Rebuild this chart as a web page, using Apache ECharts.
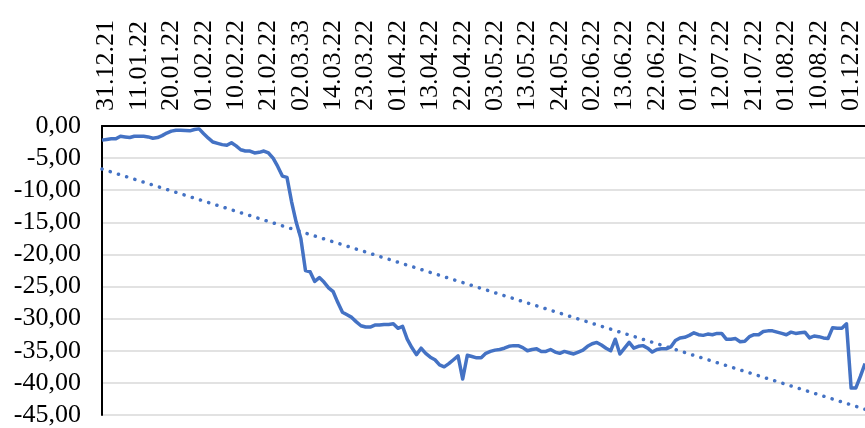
<!DOCTYPE html>
<html>
<head>
<meta charset="utf-8">
<script src="https://cdn.jsdelivr.net/npm/echarts@6/dist/echarts.min.js"></script>
<style>
  html, body { margin: 0; padding: 0; background: #fff; }
  #chart { width: 865px; height: 428px; }
</style>
</head>
<body>
<div id="chart"></div>
<script>
// labels shown on the top axis, one every 7 points (starting at point 1)
const tickLabels = [
  "31.12.21", "11.01.22", "20.01.22", "01.02.22", "10.02.22", "21.02.22",
  "02.03.33", "14.03.22", "23.03.22", "01.04.22", "13.04.22", "22.04.22",
  "03.05.22", "13.05.22", "24.05.22", "02.06.22", "13.06.22", "22.06.22",
  "01.07.22", "12.07.22", "21.07.22", "01.08.22", "10.08.22", "01.12.22"
];
const labelStep = 7;
const labelStart = 1;

// values
const values = [
  -2.2, -2.1, -2.0, -2.0, -1.6, -1.7, -1.8, -1.6, -1.6, -1.6,
  -1.7, -1.9, -1.8, -1.5, -1.1, -0.8, -0.65, -0.65, -0.7, -0.75,
  -0.55, -0.45, -1.2, -1.9, -2.5, -2.7, -2.9, -3.0, -2.6, -3.1,
  -3.7, -3.9, -3.9, -4.2, -4.1, -3.9, -4.2, -5.0, -6.3, -7.8,
  -8.0, -11.8, -15.0, -17.5, -22.5, -22.7, -24.2, -23.6, -24.3, -25.2,
  -25.8, -27.5, -29.0, -29.4, -29.8, -30.5, -31.1, -31.3, -31.3, -31.0,
  -31.0, -30.9, -30.9, -30.8, -31.5, -31.2, -33.2, -34.5, -35.6, -34.6,
  -35.4, -36.0, -36.4, -37.2, -37.5, -37.0, -36.4, -35.8, -39.4, -35.7,
  -35.9, -36.1, -36.1, -35.4, -35.1, -34.9, -34.8, -34.6, -34.3, -34.2,
  -34.2, -34.5, -35.0, -34.8, -34.7, -35.1, -35.1, -34.8, -35.2, -35.4,
  -35.1, -35.3, -35.5, -35.2, -34.9, -34.3, -33.9, -33.7, -34.1, -34.6,
  -35.0, -33.2, -35.5, -34.6, -33.7, -34.6, -34.3, -34.2, -34.6, -35.2,
  -34.8, -34.7, -34.7, -34.4, -33.4, -33.0, -32.9, -32.6, -32.2, -32.5,
  -32.6, -32.4, -32.5, -32.3, -32.3, -33.2, -33.2, -33.1, -33.6, -33.5,
  -32.8, -32.5, -32.5, -32.0, -31.9, -31.9, -32.1, -32.3, -32.5, -32.1,
  -32.3, -32.2, -32.1, -33.0, -32.7, -32.8, -33.0, -33.1, -31.4, -31.5,
  -31.5, -30.8, -40.8, -40.8, -39.0, -37.0
];

// linear trend line, start and end values
const trendEnds = [-6.7, -44.1];

const categories = values.map((v, i) => String(i));
const trendData = [[0, trendEnds[0]], [values.length - 1, trendEnds[1]]];

const chart = echarts.init(document.getElementById("chart"));
const font = "'Liberation Serif', 'Times New Roman', serif";

chart.setOption({
  animation: false,
  grid: {
    left: 102,
    right: -4,
    top: 126,
    bottom: 11
  },
  xAxis: {
    type: "category",
    position: "top",
    data: categories,
    boundaryGap: false,
    axisLine: { lineStyle: { color: "#000", width: 2 } },
    axisTick: { show: false },
    axisLabel: {
      interval: idx => idx >= labelStart && (idx - labelStart) % labelStep === 0,
      rotate: 90,
      margin: 15,
      color: "#000",
      fontFamily: font,
      fontSize: 26,
      formatter: (value, idx) => tickLabels[(idx - labelStart) / labelStep] || ""
    },
    splitLine: { show: false }
  },
  yAxis: {
    type: "value",
    min: -45,
    max: 0,
    interval: 5,
    axisLine: { show: true, lineStyle: { color: "#000", width: 2 } },
    axisTick: { show: false },
    axisLabel: {
      margin: 21,
      color: "#000",
      fontFamily: font,
      fontSize: 26,
      formatter: v => v.toFixed(2).replace(".", ",")
    },
    splitLine: { lineStyle: { color: "#d9d9d9", width: 1.5 } }
  },
  series: [
    {
      type: "line",
      data: values,
      symbol: "none",
      lineStyle: { color: "#4472c4", width: 3.5, join: "round" },
      z: 3
    },
    {
      type: "line",
      data: trendData,
      symbol: "none",
      lineStyle: {
        color: "#4472c4",
        width: 3.5,
        type: [0.1, 8.5],
        cap: "round"
      },
      z: 2
    }
  ]
});
</script>
</body>
</html>
